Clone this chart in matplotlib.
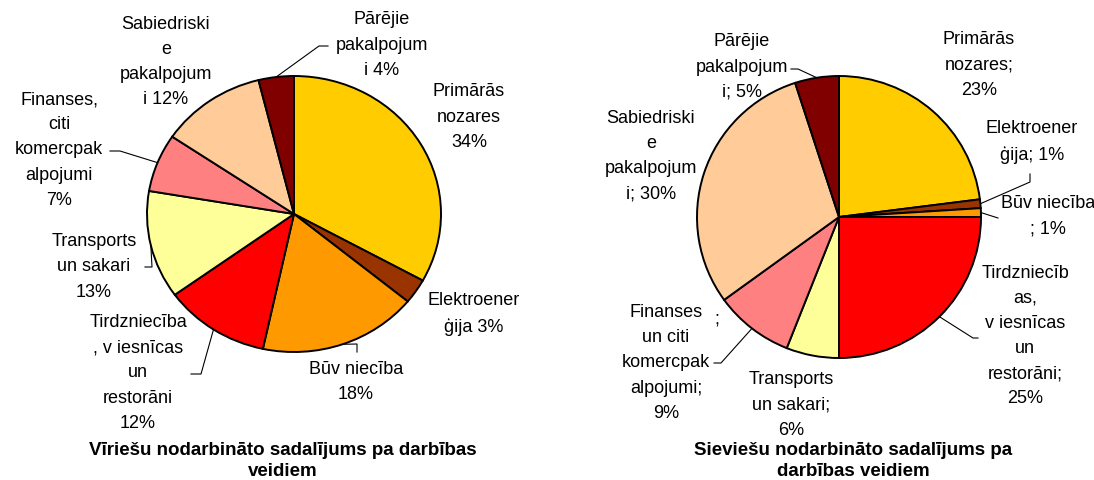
import numpy as np
import matplotlib.pyplot as plt

plt.rcParams['font.family'] = ['Liberation Sans', 'DejaVu Sans']

# data: men (left) and women (right), shares by activity
values_m = [34, 3, 18, 12, 13, 7, 12, 4]
values_f = [23, 1, 1, 25, 6, 9, 30, 5]

names_m = ["Primārās\nnozares", "Elektroener\nģija", "Būv niecība",
           "Tirdzniecība\n, v iesnīcas\nun\nrestorāni", "Transports\nun sakari",
           "Finanses,\nciti\nkomercpak\nalpojumi", "Sabiedriski\ne\npakalpojum\ni",
           "Pārējie\npakalpojum\ni"]
join_m = ["\n", " ", "\n", "\n", "\n", "\n", " ", " "]

names_f = ["Primārās\nnozares", "Elektroener\nģija", "Būv niecība\n",
           "Tirdzniecīb\nas,\nv iesnīcas\nun\nrestorāni", "Transports\nun sakari",
           "Finanses\nun citi\nkomercpak\nalpojumi", "Sabiedriski\ne\npakalpojum\ni",
           "Pārējie\npakalpojum\ni"]
join_f = [";\n", "; ", "; ", ";\n", ";\n", ";\n", "; ", "; "]

title_m = "Vīriešu nodarbināto sadalījums pa darbības\nveidiem"
title_f = "Sieviešu nodarbināto sadalījums pa\ndarbības veidiem"

colors = ["#FFCC00", "#993300", "#FF9900", "#FF0000",
          "#FFFF99", "#FF8080", "#FFCC99", "#800000"]

W, H = 1094, 481

# label centres and leader paths, in pixels (y down)
pos_m = [(469, 117), (474, 314), (356, 382), (138, 373),
         (94, 267), (59, 150), (166, 62), (382, 45)]
lead_m = [None, None, [(357, 345), (357, 353)], [(201, 375), (191, 375)],
          [(152, 268), (145, 268)], [(120, 152), (110, 152)], None,
          [(319, 47), (328, 47)]]
pos_f = [(979, 65), (1032, 142), (1048, 216), (1025, 336),
         (791, 405), (666, 363), (651, 156), (742, 67)]
lead_f = [None, [(1030, 183), (1030, 175)], [(998, 219)], [(973, 339), (978, 339)],
          None, [(721, 364), (714, 364)], None, [(798, 70), (791, 70)]]

fig = plt.figure(figsize=(W / 100, H / 100), dpi=100)
ov = fig.add_axes([0, 0, 1, 1], zorder=5)
ov.set_xlim(0, W)
ov.set_ylim(H, 0)
ov.axis('off')
ov.patch.set_visible(False)


def draw(values, names, joins, pos, leads, title, tpos, cx, cy, rx, ry):
    ax = fig.add_axes([(cx - rx) / W, (H - cy - ry) / H, 2 * rx / W, 2 * ry / H])
    wedges, _ = ax.pie(values, colors=colors, startangle=90, counterclock=False,
                       wedgeprops=dict(edgecolor='black', linewidth=1.4))
    for w in wedges:
        w.set_clip_on(False)
    ax.set_xlim(-1, 1)
    ax.set_ylim(-1, 1)
    ax.set_aspect('auto')
    ax.axis('off')

    tot = float(sum(values))
    mids = 90 - 360 * (np.cumsum(values) - np.array(values) / 2) / tot
    for v, n, j, p, ld, a in zip(values, names, joins, pos, leads, mids):
        ov.text(p[0], p[1], n + j + f"{v}%", ha='center', va='center',
                fontsize=13, linespacing=1.62)
        if ld:
            t = np.radians(a)
            xs = [cx + rx * np.cos(t)] + [q[0] for q in ld]
            ys = [cy - ry * np.sin(t)] + [q[1] for q in ld]
            ov.plot(xs, ys, color='black', lw=0.8)
    ov.text(tpos[0], tpos[1], title, ha='center', va='center', fontsize=13.5,
            fontweight='bold', linespacing=1.35)


draw(values_m, names_m, join_m, pos_m, lead_m, title_m, (283, 461), 294, 215, 147, 138)
draw(values_f, names_f, join_f, pos_f, lead_f, title_f, (853, 461), 839, 218, 142, 141)
ov.text(717, 319, ";", ha='center', va='center', fontsize=13)

fig.savefig("out.png", dpi=100)
